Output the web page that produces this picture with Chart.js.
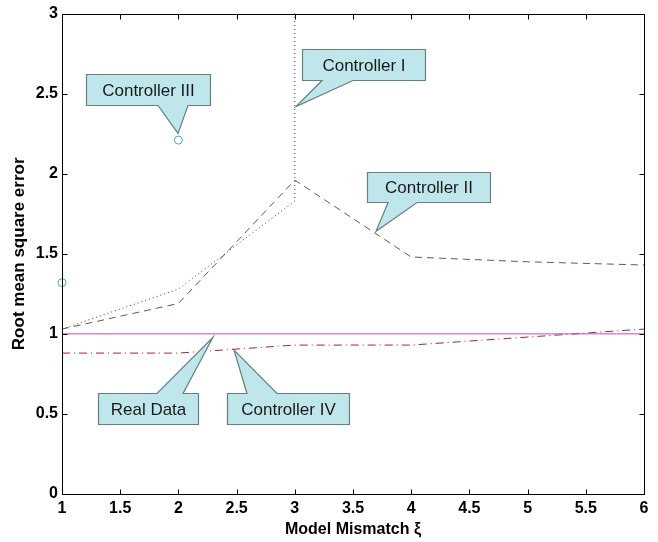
<!DOCTYPE html>
<html>
<head>
<meta charset="utf-8">
<script src="https://cdn.jsdelivr.net/npm/chart.js@4"></script>
<style>
html,body{margin:0;padding:0;background:#fff;}
#wrap{width:658px;height:542px;}
</style>
</head>
<body>
<div id="wrap"><canvas id="c" width="658" height="542"></canvas></div>
<script>
// ---- data ----
const xMismatch = [1, 2, 3, 4, 5, 6];
const xCtrl1 = [1, 2, 3, 3];
const ctrl1 = [1.03, 1.28, 1.83, 3.5];
const ctrl2 = [1.03, 1.19, 1.96, 1.48, 1.45, 1.43];
const xCtrl3 = [1, 2];
const ctrl3 = [1.32, 2.21];
const realData = [1.0, 1.0, 1.0, 1.0, 1.0, 1.0];
const ctrl4 = [0.88, 0.88, 0.93, 0.93, 0.98, 1.03];
const xTicks = [1, 1.5, 2, 2.5, 3, 3.5, 4, 4.5, 5, 5.5, 6];
const yTicks = [0, 0.5, 1, 1.5, 2, 2.5, 3];

// callouts (data coordinates): label, box [left, top, right, bottom], tip [x, y], base [x1, x2], side
const calloutLabels = ["Controller I", "Controller II", "Controller III", "Real Data", "Controller IV"];
const calloutBoxes = [
  [3.062, 2.776, 4.119, 2.583],
  [3.620, 2.009, 4.677, 1.822],
  [1.206, 2.620, 2.271, 2.427],
  [1.309, 0.630, 2.168, 0.437],
  [2.418, 0.630, 3.466, 0.437]
];
const calloutTips = [[3.010, 2.420], [3.698, 1.641], [1.997, 2.252], [2.297, 0.979], [2.478, 0.898]];
const calloutBases = [[3.234, 3.500], [3.801, 4.050], [1.825, 2.082], [1.816, 2.040], [2.589, 2.847]];
const calloutSides = ["bottom", "bottom", "bottom", "top", "top"];

const pts = (xs, ys) => xs.map((x, i) => ({x: x, y: ys[i]}));

const frameTicks = {
  id: 'frameTicks',
  afterDraw(chart) {
    const {ctx, chartArea: a, scales: {x, y}} = chart;
    ctx.save();
    ctx.strokeStyle = '#000';
    ctx.lineWidth = 1;
    ctx.beginPath();
    const L = Math.round(a.left) + 0.5, R = Math.round(a.right) + 0.5;
    const T = Math.round(a.top) + 0.5, B = Math.round(a.bottom) + 0.5;
    ctx.rect(L, T, R - L, B - T);
    const tl = 5;
    xTicks.forEach(v => {
      const px = Math.round(x.getPixelForValue(v)) + 0.5;
      ctx.moveTo(px, B); ctx.lineTo(px, B - tl);
      ctx.moveTo(px, T); ctx.lineTo(px, T + tl);
    });
    yTicks.forEach(v => {
      const py = Math.round(y.getPixelForValue(v)) + 0.5;
      ctx.moveTo(L, py); ctx.lineTo(L + tl, py);
      ctx.moveTo(R, py); ctx.lineTo(R - tl, py);
    });
    ctx.stroke();
    ctx.restore();
  }
};

const callouts = {
  id: 'callouts',
  afterDatasetsDraw(chart) {
    const {ctx, scales: {x, y}} = chart;
    ctx.save();
    calloutLabels.forEach((lab, i) => {
      const b = calloutBoxes[i];
      const L = Math.round(x.getPixelForValue(b[0])) + 0.5;
      const T = Math.round(y.getPixelForValue(b[1])) + 0.5;
      const R = Math.round(x.getPixelForValue(b[2])) + 0.5;
      const B = Math.round(y.getPixelForValue(b[3])) + 0.5;
      const tx = x.getPixelForValue(calloutTips[i][0]);
      const ty = y.getPixelForValue(calloutTips[i][1]);
      const b1 = x.getPixelForValue(calloutBases[i][0]);
      const b2 = x.getPixelForValue(calloutBases[i][1]);
      ctx.beginPath();
      if (calloutSides[i] === 'bottom') {
        ctx.moveTo(L, T); ctx.lineTo(R, T); ctx.lineTo(R, B);
        ctx.lineTo(b2, B); ctx.lineTo(tx, ty); ctx.lineTo(b1, B);
        ctx.lineTo(L, B); ctx.closePath();
      } else {
        ctx.moveTo(L, T); ctx.lineTo(b1, T); ctx.lineTo(tx, ty); ctx.lineTo(b2, T);
        ctx.lineTo(R, T); ctx.lineTo(R, B); ctx.lineTo(L, B); ctx.closePath();
      }
      ctx.fillStyle = '#bfe6ea';
      ctx.fill();
      ctx.strokeStyle = '#667f82';
      ctx.lineWidth = 1.2;
      ctx.lineJoin = 'miter';
      ctx.stroke();
      ctx.fillStyle = '#1a1a1a';
      ctx.font = '17px "Liberation Sans", Arial, sans-serif';
      ctx.textAlign = 'center';
      ctx.textBaseline = 'middle';
      ctx.fillText(lab, (L + R) / 2, (T + B) / 2 + 1);
    });
    ctx.restore();
  }
};

const tickFont = {family: '"Liberation Sans", Arial, sans-serif', size: 16, weight: 'bold'};

new Chart(document.getElementById('c'), {
  type: 'scatter',
  data: {
    datasets: [
      {label: 'Controller I', data: pts(xCtrl1, ctrl1), showLine: true, borderColor: '#3a3a3a', borderWidth: 1, borderDash: [1, 3], pointRadius: 0, fill: false},
      {label: 'Controller II', data: pts(xMismatch, ctrl2), showLine: true, borderColor: '#4f6352', borderWidth: 1, borderDash: [7, 5], pointRadius: 0, fill: false},
      {label: 'Controller III', data: pts(xCtrl3, ctrl3), showLine: false, clip: 8, borderColor: '#4aa5a8', backgroundColor: 'rgba(0,0,0,0)', borderWidth: 1, pointRadius: 4, pointStyle: 'circle'},
      {label: 'Real Data', data: pts(xMismatch, realData), showLine: true, borderColor: '#c04cc4', borderWidth: 1, pointRadius: 0, fill: false},
      {label: 'Controller IV', data: pts(xMismatch, ctrl4), showLine: true, borderColor: '#a3223f', borderWidth: 1, borderDash: [8, 4, 1, 4], pointRadius: 0, fill: false}
    ]
  },
  options: {
    responsive: false,
    animation: false,
    devicePixelRatio: 1,
    layout: {padding: {left: 0, top: 13, right: 14, bottom: 0}},
    plugins: {legend: {display: false}, tooltip: {enabled: false}},
    scales: {
      x: {
        type: 'linear', min: 1, max: 6,
        afterBuildTicks: s => { s.ticks = xTicks.map(v => ({value: v})); },
        afterFit: s => { s.height = 48; },
        grid: {display: false, drawTicks: false},
        border: {display: false},
        ticks: {color: '#000', padding: 5, font: tickFont, maxRotation: 0, autoSkip: false, callback: v => String(v)},
        title: {display: true, text: 'Model Mismatch ξ', color: '#000', padding: {top: 0, bottom: 3}, font: {family: '"Liberation Sans", Arial, sans-serif', size: 16, weight: 'bold'}}
      },
      y: {
        type: 'linear', min: 0, max: 3,
        afterBuildTicks: s => { s.ticks = yTicks.map(v => ({value: v})); },
        afterFit: s => { s.width = 62; },
        grid: {display: false, drawTicks: false},
        border: {display: false},
        ticks: {color: '#000', padding: 4, font: tickFont, autoSkip: false, callback: v => String(v)},
        title: {display: true, text: 'Root mean square error', color: '#000', padding: {top: 9, bottom: 0}, font: {family: '"Liberation Sans", Arial, sans-serif', size: 17, weight: 'bold'}}
      }
    }
  },
  plugins: [frameTicks, callouts]
});
</script>
</body>
</html>
